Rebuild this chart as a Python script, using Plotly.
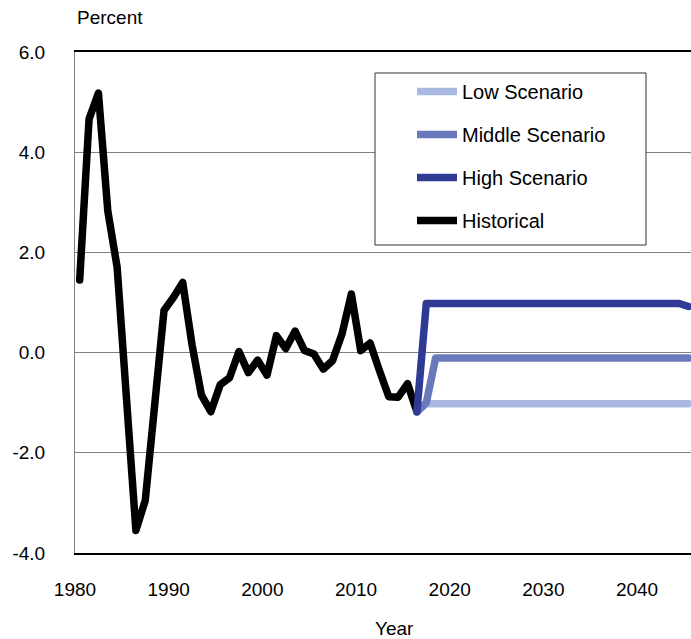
import plotly.graph_objects as go

# ---------------- data ----------------
hist_years = list(range(1980, 2017))
hist_values = [1.45, 4.66, 5.18, 2.83, 1.70, -0.90, -3.55, -2.95, -1.05, 0.84,
               1.10, 1.40, 0.15, -0.85, -1.18, -0.64, -0.50, 0.02, -0.40, -0.15,
               -0.45, 0.34, 0.08, 0.43, 0.04, -0.03, -0.33, -0.16, 0.37, 1.17,
               0.04, 0.19, -0.36, -0.88, -0.89, -0.62, -1.18]

scen_years = list(range(2016, 2046))
low_values = [-1.18, -1.02, -1.02, -1.02, -1.02, -1.02, -1.02, -1.02, -1.02, -1.02,
              -1.02, -1.02, -1.02, -1.02, -1.02, -1.02, -1.02, -1.02, -1.02, -1.02,
              -1.02, -1.02, -1.02, -1.02, -1.02, -1.02, -1.02, -1.02, -1.02, -1.02]
middle_values = [-1.18, -1.00, -0.11, -0.11, -0.11, -0.11, -0.11, -0.11, -0.11, -0.11,
                 -0.11, -0.11, -0.11, -0.11, -0.11, -0.11, -0.11, -0.11, -0.11, -0.11,
                 -0.11, -0.11, -0.11, -0.11, -0.11, -0.11, -0.11, -0.11, -0.11, -0.11]
high_values = [-1.18, 0.98, 0.98, 0.98, 0.98, 0.98, 0.98, 0.98, 0.98, 0.98,
               0.98, 0.98, 0.98, 0.98, 0.98, 0.98, 0.98, 0.98, 0.98, 0.98,
               0.98, 0.98, 0.98, 0.98, 0.98, 0.98, 0.98, 0.98, 0.98, 0.92]

x_tick_years = [1980, 1990, 2000, 2010, 2020, 2030, 2040]
x_tick_labels = ["1980", "1990", "2000", "2010", "2020", "2030", "2040"]
y_tick_values = [-4, -2, 0, 2, 4, 6]
y_tick_labels = ["-4.0", "-2.0", "0.0", "2.0", "4.0", "6.0"]

# ---------------- style ----------------
FONT = "Liberation Sans, Arial, sans-serif"
LW = 7.5
C_LOW = "#A9B9E1"
C_MID = "#6A79BC"
C_HIGH = "#2E3A94"
C_HIST = "#000000"

fig = go.Figure()
fig.add_trace(go.Scatter(x=hist_years, y=hist_values, mode="lines", name="Historical",
                         line=dict(color=C_HIST, width=LW), legendrank=4,
                         legendgroup="d"))
fig.add_trace(go.Scatter(x=scen_years, y=low_values, mode="lines", name="Low Scenario",
                         line=dict(color=C_LOW, width=LW), legendrank=1,
                         legendgroup="a"))
fig.add_trace(go.Scatter(x=scen_years, y=middle_values, mode="lines", name="Middle Scenario",
                         line=dict(color=C_MID, width=LW), legendrank=2,
                         legendgroup="b"))
fig.add_trace(go.Scatter(x=scen_years, y=high_values, mode="lines", name="High Scenario",
                         line=dict(color=C_HIGH, width=LW), legendrank=3,
                         legendgroup="c"))

L, T, W, H = 75, 52, 691, 639
PW, PH = 616, 501

def px(xp):
    return (xp - L) / PW

def py(yp):
    return (T + PH - yp) / PH

fig.update_layout(
    width=W, height=H,
    margin=dict(l=L, r=W - L - PW, t=T, b=H - T - PH, pad=0),
    paper_bgcolor="white", plot_bgcolor="white",
    font=dict(family=FONT, size=19, color="black"),
    showlegend=True,
    legend=dict(x=px(412), y=py(72), xanchor="left", yanchor="top",
                bgcolor="rgba(0,0,0,0)", borderwidth=0,
                font=dict(size=20, family=FONT), tracegroupgap=14,
                itemwidth=40, traceorder="grouped"),
    xaxis=dict(range=[1979.5, 2045.26], tickmode="array",
               tickvals=[y - 0.5 for y in x_tick_years], ticktext=x_tick_labels,
               showgrid=False, zeroline=False, ticks="",
               showline=True, linecolor="black", linewidth=1.5, mirror=True,
               ticklabelstandoff=18, tickfont=dict(size=19)),
    yaxis=dict(range=[-4, 6], tickmode="array", tickvals=y_tick_values,
               ticktext=y_tick_labels, showgrid=True, gridcolor="#808080",
               gridwidth=1, zeroline=False, ticks="",
               showline=True, linecolor="#808080", linewidth=1,
               ticklabelstandoff=25, tickfont=dict(size=19)),
    shapes=[dict(type="rect", xref="paper", yref="paper",
                 x0=px(375), x1=px(646), y0=py(245), y1=py(73),
                 line=dict(color="#333333", width=1), fillcolor="white",
                 layer="above")],
    annotations=[
        dict(text="Percent", xref="paper", yref="paper", x=0, y=py(18),
             xanchor="left", yanchor="middle", showarrow=False,
             font=dict(size=19)),
        dict(text="Year", xref="paper", yref="paper", x=px(395), y=py(628),
             xanchor="center", yanchor="middle", showarrow=False,
             font=dict(size=19)),
    ],
)

post = (
    "document.body.style.margin='0';"
    "document.body.style.overflow='hidden';"
    "var s=document.createElement('style');"
    "s.textContent='.scatterlayer .js-line'"
    "+'{stroke-linejoin:round !important;stroke-linecap:round !important;}';"
    "document.head.appendChild(s);"
)
fig.write_html("out.html", config={"displayModeBar": False}, post_script=post)
